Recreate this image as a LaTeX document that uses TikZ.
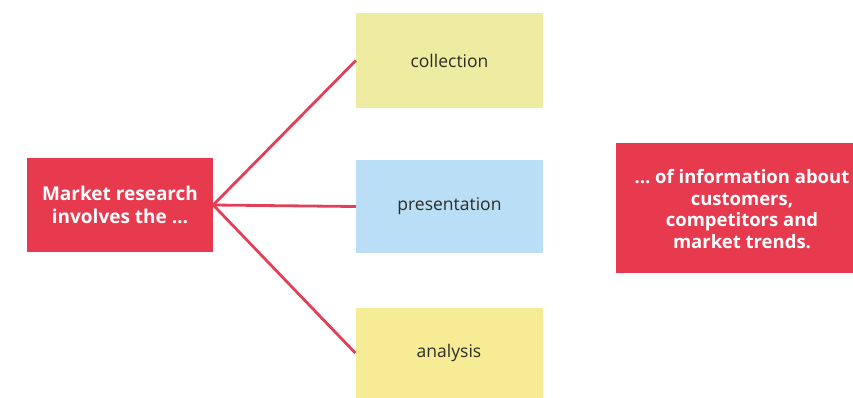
\documentclass[tikz,border=0pt]{standalone}
\usepackage{fontspec}
\setmainfont{Open Sans}
\definecolor{redbox}{RGB}{232,58,78}
\definecolor{redline}{RGB}{226,64,88}
\definecolor{yelA}{RGB}{238,236,160}
\definecolor{yelB}{RGB}{247,236,150}
\definecolor{bluebox}{RGB}{186,222,245}
\definecolor{darktext}{RGB}{45,45,40}
\tikzset{
  redtext/.style={text=white, font=\bfseries\fontsize{18.5}{21.5}\selectfont, align=center},
  itembox/.style={minimum width=187pt, minimum height=95pt, inner sep=0pt, text=darktext, font=\fontsize{17.5}{20}\selectfont},
  link/.style={draw=redline, line width=2.8pt}
}
\begin{document}
\begin{tikzpicture}[x=1pt,y=-1pt]
\useasboundingbox (0,0) rectangle (853,397);
\clip (0,0) rectangle (853,397);
\node[fill=redbox, minimum width=186pt, minimum height=94pt, inner sep=0pt, redtext, font=\bfseries\fontsize{19}{23}\selectfont] (mr) at (120,205) {Market research\\involves the \dots};
\node[itembox, fill=yelA] (col) at (449.5,60.5) {collection};
\node[itembox, fill=bluebox, minimum height=93pt] (pre) at (449.5,206.5) {presentation};
\node[itembox, fill=yelB, minimum height=90pt] (ana) at (449,353) {analysis};
\fill[redbox] (616,143) rectangle (870,273);
\node[redtext] (info) at (742,209) {\dots\ of information about\\customers,\\competitors and\\market trends.};
\coordinate (hub) at (mr.east);
\draw[link] (hub) -- (col.west);
\draw[link] (hub) -- (pre.west);
\draw[link] (hub) -- (ana.west);
\end{tikzpicture}
\end{document}
